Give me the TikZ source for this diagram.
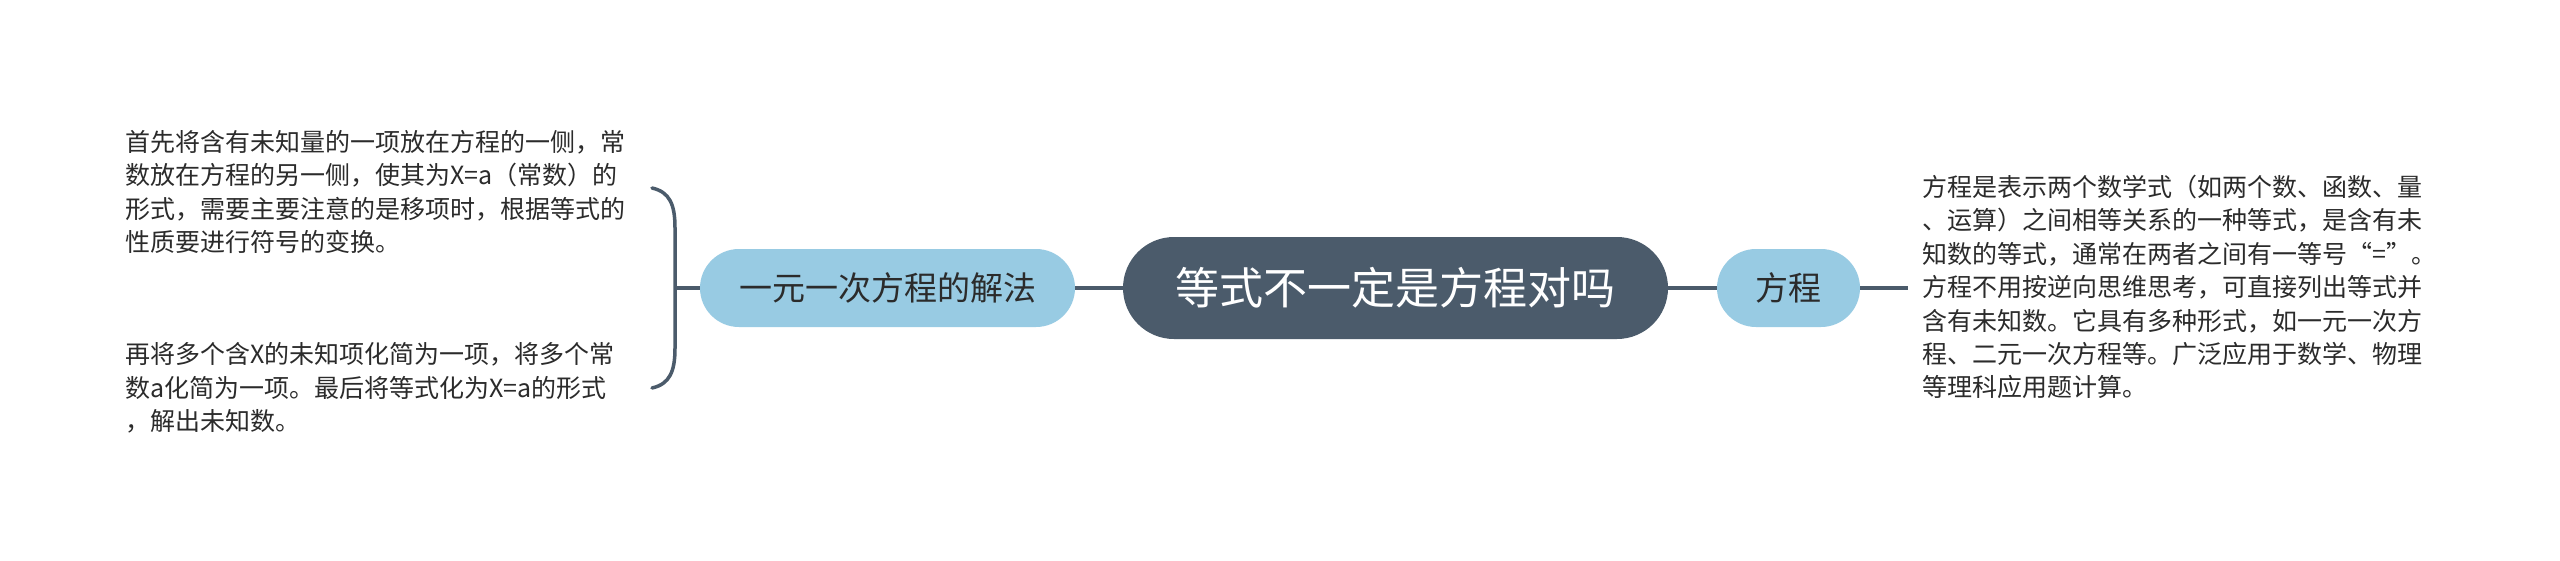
\documentclass[tikz,border=0pt]{standalone}
\usepackage{fontspec}
\setmainfont{Noto Sans CJK SC}
\definecolor{darknode}{HTML}{4B5B6B}
\definecolor{lightnode}{HTML}{98CBE3}
\definecolor{bodyink}{HTML}{2B2B2B}
\tikzset{
  rootnode/.style={fill=darknode, rounded corners=51pt, minimum width=545pt, minimum height=102pt,
    inner sep=0pt, text=white, font=\fontsize{44}{52}\selectfont},
  topicnode/.style={fill=lightnode, rounded corners=39pt, minimum height=78pt, inner sep=0pt,
    text=bodyink, font=\fontsize{33}{40}\selectfont},
  bodytext/.style={align=left, text=bodyink, font=\fontsize{25}{33.4}\selectfont, inner sep=0pt},
  link/.style={draw=darknode, line width=4pt},
  bracketline/.style={draw=darknode, line width=3.5pt, line cap=round}
}
\begin{document}
\begin{tikzpicture}[x=1pt,y=-1pt]
\fill[white] (0,0) rectangle (2560,560);
\useasboundingbox (0,0) rectangle (2560,560);

\node[rootnode] (root) at (1395.5,288) {等式不一定是方程对吗};
\node[topicnode, minimum width=375pt] (left) at (887.5,288) {一元一次方程的解法};
\node[topicnode, minimum width=143pt] (right) at (1788.5,288) {方程};

\node[bodytext, anchor=west] (rtext) at (1922,287) {方程是表示两个数学式（如两个数、函数、量\\、运算）之间相等关系的一种等式，是含有未\\知数的等式，通常在两者之间有一等号“=”。\\方程不用按逆向思维思考，可直接列出等式并\\含有未知数。它具有多种形式，如一元一次方\\程、二元一次方程等。广泛应用于数学、物理\\等理科应用题计算。};

\node[bodytext, anchor=west] (ltext1) at (125,192) {首先将含有未知量的一项放在方程的一侧，常\\数放在方程的另一侧，使其为X=a（常数）的\\形式，需要主要注意的是移项时，根据等式的\\性质要进行符号的变换。};
\node[bodytext, anchor=west] (ltext2) at (125,388) {再将多个含X的未知项化简为一项，将多个常\\数a化简为一项。最后将等式化为X=a的形式\\，解出未知数。};

\coordinate (rend) at (1908,288);
\coordinate (bmid) at (675,288);
\coordinate (btop) at (652,188);
\coordinate (bbot) at (652,388);

\draw[link] (root.east) -- (right.west);
\draw[link] (right.east) -- (rend);
\draw[link] (root.west) -- (left.east);
\draw[link] (left.west) -- (bmid);
\draw[bracketline] (btop) .. controls (670,192) and (675,205) .. (675,228) -- (675,348) .. controls (675,371) and (670,384) .. (bbot);
\end{tikzpicture}
\end{document}
